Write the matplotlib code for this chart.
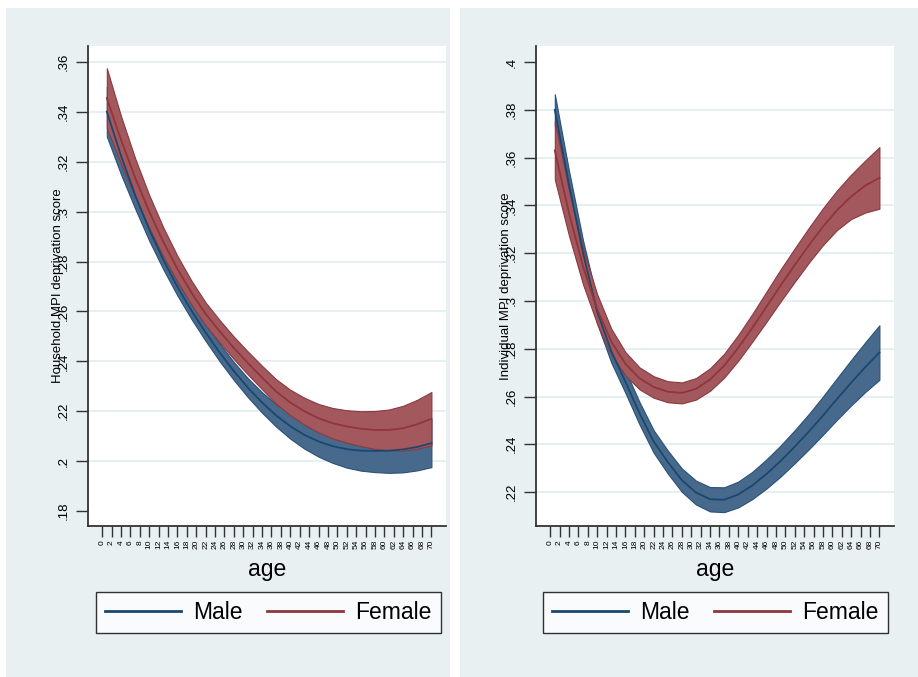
import matplotlib.pyplot as plt
from matplotlib.patches import Rectangle

plt.rcParams['font.family'] = ['Liberation Sans', 'DejaVu Sans']

age = [1, 4, 7, 10, 13, 16, 19, 22, 25, 28, 31, 34, 37, 40, 43, 46, 49, 52, 55, 58, 61, 64, 67, 70]

# household MPI deprivation score: fitted line and 95% CI
hh_male = [0.3401, 0.3225, 0.3068, 0.2929, 0.2807, 0.2699, 0.2603, 0.2516, 0.2435, 0.2361, 0.2294, 0.2235,
           0.2183, 0.2140, 0.2105, 0.2079, 0.2060, 0.2048, 0.2042, 0.2041, 0.2042, 0.2047, 0.2057, 0.2072]
hh_male_lo = [0.3301, 0.3150, 0.3013, 0.2884, 0.2769, 0.2664, 0.2569, 0.2482, 0.2400, 0.2325, 0.2256, 0.2194,
              0.2138, 0.2090, 0.2050, 0.2018, 0.1993, 0.1974, 0.1962, 0.1956, 0.1953, 0.1955, 0.1963, 0.1976]
hh_male_hi = [0.3501, 0.3300, 0.3123, 0.2974, 0.2845, 0.2734, 0.2637, 0.2550, 0.2470, 0.2397, 0.2332, 0.2276,
              0.2228, 0.2190, 0.2160, 0.2140, 0.2127, 0.2122, 0.2122, 0.2126, 0.2131, 0.2139, 0.2151, 0.2168]
hh_female = [0.3455, 0.3289, 0.3137, 0.3001, 0.2879, 0.2771, 0.2675, 0.2590, 0.2520, 0.2454, 0.2393, 0.2335,
             0.2279, 0.2235, 0.2200, 0.2172, 0.2152, 0.2139, 0.2130, 0.2125, 0.2125, 0.2132, 0.2148, 0.2170]
hh_female_lo = [0.3335, 0.3194, 0.3059, 0.2935, 0.2821, 0.2719, 0.2627, 0.2544, 0.2475, 0.2409, 0.2347, 0.2288,
                0.2230, 0.2184, 0.2146, 0.2115, 0.2091, 0.2074, 0.2060, 0.2049, 0.2043, 0.2042, 0.2050, 0.2063]
hh_female_hi = [0.3575, 0.3384, 0.3215, 0.3067, 0.2937, 0.2823, 0.2723, 0.2636, 0.2565, 0.2499, 0.2439, 0.2382,
                0.2328, 0.2286, 0.2254, 0.2229, 0.2213, 0.2204, 0.2200, 0.2201, 0.2207, 0.2222, 0.2246, 0.2277]

# individual MPI deprivation score
ind_male = [0.3800, 0.3488, 0.3200, 0.2955, 0.2790, 0.2662, 0.2530, 0.2412, 0.2326, 0.2250, 0.2198, 0.2170,
            0.2168, 0.2190, 0.2228, 0.2276, 0.2330, 0.2390, 0.2453, 0.2520, 0.2590, 0.2658, 0.2723, 0.2784]
ind_male_lo = [0.3735, 0.3430, 0.3147, 0.2905, 0.2742, 0.2615, 0.2483, 0.2365, 0.2278, 0.2201, 0.2148, 0.2119,
               0.2116, 0.2136, 0.2171, 0.2215, 0.2265, 0.2321, 0.2379, 0.2440, 0.2503, 0.2563, 0.2619, 0.2670]
ind_male_hi = [0.3865, 0.3546, 0.3253, 0.3005, 0.2838, 0.2709, 0.2577, 0.2459, 0.2374, 0.2299, 0.2248, 0.2221,
               0.2220, 0.2244, 0.2285, 0.2337, 0.2395, 0.2459, 0.2527, 0.2600, 0.2677, 0.2753, 0.2827, 0.2898]
ind_female = [0.3630, 0.3369, 0.3144, 0.2966, 0.2830, 0.2737, 0.2676, 0.2640, 0.2620, 0.2615, 0.2632, 0.2671,
              0.2729, 0.2804, 0.2888, 0.2976, 0.3065, 0.3150, 0.3233, 0.3311, 0.3380, 0.3437, 0.3483, 0.3515]
ind_female_lo = [0.3508, 0.3274, 0.3069, 0.2904, 0.2776, 0.2688, 0.2630, 0.2595, 0.2576, 0.2571, 0.2587, 0.2624,
                 0.2679, 0.2750, 0.2830, 0.2913, 0.2998, 0.3080, 0.3160, 0.3234, 0.3297, 0.3343, 0.3370, 0.3386]
ind_female_hi = [0.3752, 0.3464, 0.3219, 0.3028, 0.2884, 0.2786, 0.2722, 0.2685, 0.2664, 0.2659, 0.2677, 0.2718,
                 0.2779, 0.2858, 0.2946, 0.3039, 0.3132, 0.3220, 0.3306, 0.3388, 0.3463, 0.3529, 0.3588, 0.3644]

age_ticks = list(range(0, 71, 2))
hh_yticks = [0.18, 0.20, 0.22, 0.24, 0.26, 0.28, 0.30, 0.32, 0.34, 0.36]
hh_ylabels = ['.18', '.2', '.22', '.24', '.26', '.28', '.3', '.32', '.34', '.36']
ind_yticks = [0.22, 0.24, 0.26, 0.28, 0.30, 0.32, 0.34, 0.36, 0.38, 0.40]
ind_ylabels = ['.22', '.24', '.26', '.28', '.3', '.32', '.34', '.36', '.38', '.4']

BG = '#e8f0f2'
BLUE, BLUE_FILL, BLUE_EDGE = '#1a476f', '#476a8c', '#2a5178'
RED, RED_FILL, RED_EDGE = '#90353b', '#a3585d', '#8a3940'

W, H = 918, 677
fig = plt.figure(figsize=(W / 100, H / 100), dpi=100)
fig.patch.set_facecolor('white')

# two graph backgrounds side by side
fig.add_artist(Rectangle((6 / W, 0), 444 / W, 669 / H, transform=fig.transFigure,
                         facecolor=BG, edgecolor='none', zorder=-1))
fig.add_artist(Rectangle((460 / W, 0), 458 / W, 669 / H, transform=fig.transFigure,
                         facecolor=BG, edgecolor='none', zorder=-1))


def panel(left, male, male_lo, male_hi, female, female_lo, female_hi,
          yticks, ylabels, grid, ylim, ylabel, leg_x):
    ax = fig.add_axes([left / W, 1 - 526 / H, 358 / W, 480 / H])
    ax.set_facecolor('white')
    for v in grid:
        ax.axhline(v, color='#e6eff1', lw=1.4, zorder=1)

    ax.fill_between(age, male_lo, male_hi, facecolor=BLUE_FILL, edgecolor=BLUE_EDGE, lw=0.8, zorder=2)
    ax.fill_between(age, female_lo, female_hi, facecolor=RED_FILL, edgecolor=RED_EDGE, lw=0.8, zorder=2)
    ax.plot(age, male, color=BLUE, lw=1.3, zorder=3, label='Male')
    ax.plot(age, female, color=RED, lw=1.3, zorder=3, label='Female')

    ax.set_xlim(-3, 73.1)
    ax.set_ylim(*ylim)
    for s in ['top', 'right']:
        ax.spines[s].set_visible(False)
    for s in ['left', 'bottom']:
        ax.spines[s].set_color('#333333')
        ax.spines[s].set_linewidth(1.3)

    ax.set_xticks(age_ticks)
    ax.set_xticklabels([str(a) for a in age_ticks], rotation=90, fontsize=6)
    ax.set_yticks(yticks)
    ax.set_yticklabels(ylabels, rotation=90, va='center', fontsize=9.5)
    ax.tick_params(axis='x', length=8, width=1, pad=2, color='#333333')
    ax.tick_params(axis='y', length=9, width=1, pad=4, color='#333333')

    ax.set_xlabel('age', fontsize=16.5)
    ax.xaxis.set_label_coords(0.5, -0.066)
    ax.set_ylabel(ylabel, fontsize=9.5)
    ax.yaxis.set_label_coords(-0.068, 0.5)

    leg = ax.legend(loc='upper left', bbox_to_anchor=(leg_x, -0.1375), bbox_transform=ax.transAxes,
                    ncol=2, fontsize=16.5, frameon=True, fancybox=False, edgecolor='black',
                    borderpad=0.4, handlelength=3.3, handletextpad=0.55, columnspacing=1.05,
                    borderaxespad=0)
    leg.get_frame().set_linewidth(1.0)
    for h in leg.get_lines():
        h.set_linewidth(2)
    return ax


panel(88, hh_male, hh_male_lo, hh_male_hi, hh_female, hh_female_lo, hh_female_hi,
      hh_yticks, hh_ylabels, hh_yticks[1:], (0.174, 0.3664), 'Household MPI deprivation score', 0.0223)
panel(536, ind_male, ind_male_lo, ind_male_hi, ind_female, ind_female_lo, ind_female_hi,
      ind_yticks, ind_ylabels, ind_yticks[:-1], (0.2058, 0.4067), 'Individual MPI deprivation score', 0.0196)

fig.savefig('out.png', dpi=100, facecolor='white')
